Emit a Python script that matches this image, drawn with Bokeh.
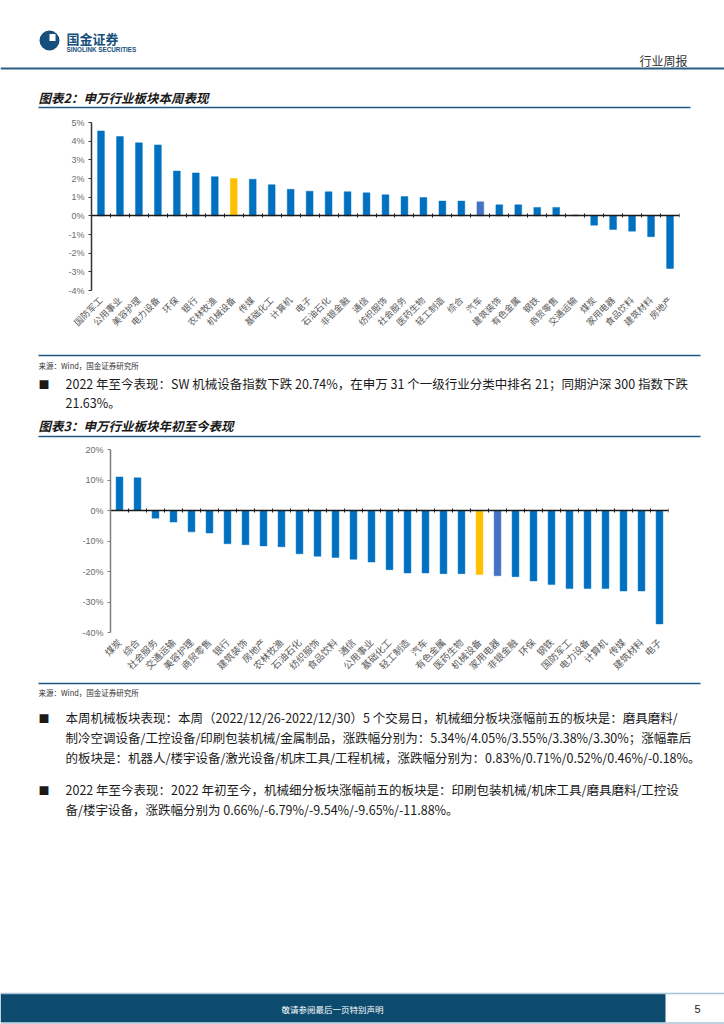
import math
from bokeh.plotting import figure
from bokeh.models import Range1d, LinearAxis, FixedTicker, ColumnDataSource, PrintfTickFormatter
from bokeh.core.properties import value
from bokeh.embed import file_html
from bokeh.resources import INLINE

# ---------------- data ----------------
week_categories = ["国防军工", "公用事业", "美容护理", "电力设备", "环保", "银行", "农林牧渔", "机械设备",
                   "传媒", "基础化工", "计算机", "电子", "石油石化", "非银金融", "通信", "纺织服饰",
                   "社会服务", "医药生物", "轻工制造", "综合", "汽车", "建筑装饰", "有色金属", "钢铁",
                   "商贸零售", "交通运输", "煤炭", "家用电器", "食品饮料", "建筑材料", "房地产"]
week_values = [4.55, 4.25, 3.91, 3.80, 2.40, 2.30, 2.10, 2.00, 1.96, 1.67, 1.42, 1.32, 1.29, 1.29, 1.23,
               1.13, 1.03, 0.98, 0.79, 0.79, 0.75, 0.59, 0.59, 0.45, 0.45, 0.05, -0.50, -0.73, -0.82,
               -1.12, -2.82]
week_ticks = [-4, -3, -2, -1, 0, 1, 2, 3, 4, 5]
week_alt = "汽车"

ytd_categories = ["煤炭", "综合", "社会服务", "交通运输", "美容护理", "商贸零售", "银行", "建筑装饰",
                  "房地产", "农林牧渔", "石油石化", "纺织服饰", "食品饮料", "通信", "公用事业", "基础化工",
                  "轻工制造", "汽车", "有色金属", "医药生物", "机械设备", "家用电器", "非银金融", "环保",
                  "钢铁", "国防军工", "电力设备", "计算机", "传媒", "建筑材料", "电子"]
ytd_values = [11.0, 10.7, -2.5, -3.8, -7.0, -7.4, -10.9, -11.2, -11.6, -11.9, -14.2, -15.0, -15.4, -16.0,
              -16.9, -19.4, -20.5, -20.5, -20.7, -20.7, -21.0, -21.4, -21.7, -23.1, -24.3, -25.6, -25.6,
              -25.6, -26.4, -26.4, -37.2]
ytd_ticks = [-40, -30, -20, -10, 0, 10, 20]
ytd_alt = "家用电器"

highlight = "机械设备"

title1 = "图表2：申万行业板块本周表现"
title2 = "图表3：申万行业板块年初至今表现"
source_text = "来源：Wind，国金证券研究所"
para0 = ["2022 年至今表现：SW 机械设备指数下跌 20.74%，在申万 31 个一级行业分类中排名 21；同期沪深 300 指数下跌",
         "21.63%。"]
para1 = ["本周机械板块表现：本周（2022/12/26-2022/12/30）5 个交易日，机械细分板块涨幅前五的板块是：磨具磨料/",
         "制冷空调设备/工控设备/印刷包装机械/金属制品，涨跌幅分别为：5.34%/4.05%/3.55%/3.38%/3.30%；涨幅靠后",
         "的板块是：机器人/楼宇设备/激光设备/机床工具/工程机械，涨跌幅分别为：0.83%/0.71%/0.52%/0.46%/-0.18%。"]
para2 = ["2022 年至今表现：2022 年初至今，机械细分板块涨幅前五的板块是：印刷包装机械/机床工具/磨具磨料/工控设",
         "备/楼宇设备，涨跌幅分别为 0.66%/-6.79%/-9.54%/-9.65%/-11.88%。"]

# ---------------- styles ----------------
CJK = "Noto Sans CJK SC"
LAT = "Liberation Sans"
MAIN = "#0070C0"
HL = "#FFC000"
ALT = "#4472C4"
RULE = "#1F5A85"
W = 724


def page_fig(top, bottom):
    p = figure(width=W, height=bottom - top, x_range=Range1d(0, W), y_range=Range1d(bottom, top),
               x_axis_type=None, y_axis_type=None, output_backend="svg", toolbar_location=None,
               min_border=0, outline_line_color=None)
    p.min_border_left = p.min_border_right = p.min_border_top = p.min_border_bottom = 0
    return p


def txt(p, x, y, s, size, color="#1a1a1a", font=CJK, style="normal", align="left"):
    p.text(x=[x], y=[y], text=[s], text_font=value(font), text_font_size=value(f"{size}px"),
           text_color=color, text_font_style=style, text_align=align, text_baseline="middle")


def hline(p, x0, x1, y, color=RULE, width=1.5):
    p.line(x=[x0, x1], y=[y, y], line_color=color, line_width=width)


def bar_chart(cats, vals, ticks, alt_cat, h, left, right, top, bottom, bar_w, xlab_size, yaxis_color):
    n = len(cats)
    p = figure(width=W, height=h, x_range=Range1d(-0.5, n - 0.5),
               y_range=Range1d(min(ticks), max(ticks)),
               x_axis_type=None, y_axis_type=None, output_backend="svg", toolbar_location=None,
               outline_line_color=None, min_border_left=left, min_border_right=right,
               min_border_top=top, min_border_bottom=bottom)
    colors = [HL if c == highlight else (ALT if c == alt_cat else MAIN) for c in cats]
    src = ColumnDataSource(dict(x=list(range(n)), top=vals, color=colors))
    p.vbar(x="x", top="top", bottom=0, width=bar_w, fill_color="color", line_color="color",
           line_alpha=0.45, line_width=1, source=src)

    yax = LinearAxis(ticker=FixedTicker(ticks=ticks), formatter=PrintfTickFormatter(format="%d%%"))
    yax.axis_line_color = yaxis_color
    yax.axis_line_width = 1.5
    yax.major_tick_line_color = yaxis_color
    yax.major_tick_in = 0
    yax.major_tick_out = 3
    yax.minor_tick_line_color = None
    yax.major_label_text_font = LAT
    yax.major_label_text_font_size = "9px"
    yax.major_label_text_color = "#6b6b6b"
    yax.major_label_standoff = 4
    p.add_layout(yax, "left")

    xax = LinearAxis(ticker=FixedTicker(ticks=list(range(n))),
                     major_label_overrides={i: c for i, c in enumerate(cats)})
    xax.axis_line_color = None
    xax.major_tick_line_color = None
    xax.minor_tick_line_color = None
    xax.major_label_orientation = math.pi / 4
    xax.major_label_text_font = CJK
    xax.major_label_text_font_size = f"{xlab_size}px"
    xax.major_label_text_color = "#595959"
    xax.major_label_standoff = 2
    p.add_layout(xax, "below")

    bounds = [i - 0.5 for i in range(n + 1)]
    zax = LinearAxis(fixed_location=0, ticker=FixedTicker(ticks=bounds),
                     major_label_overrides={b: "" for b in bounds})
    zax.axis_line_color = "#1a1a1a"
    zax.axis_line_width = 1.5
    zax.major_tick_line_color = "#1a1a1a"
    zax.major_tick_in = 2
    zax.major_tick_out = 2
    zax.minor_tick_line_color = None
    zax.major_label_standoff = 0
    p.add_layout(zax, "above")
    return p


# ---------------- header (page y 0..112) ----------------
pa = page_fig(0, 112)
pa.circle(x=[49], y=[40], radius=10, fill_color="#174F7C", line_color=None)
pa.rect(x=[52], y=[37], width=6, height=7, fill_color="white", line_color=None)
txt(pa, 66, 38, "国金证券", 13, color="#174F7C", style="bold")
txt(pa, 66, 49, "SINOLINK SECURITIES", 6.3, color="#174F7C", font=LAT, style="bold")
txt(pa, 687, 60, "行业周报", 12, color="#333333", align="right")
hline(pa, 0, W, 68, color="#2B5C84", width=2)
txt(pa, 38, 97, title1, 12.5, style="bold italic")
hline(pa, 38, 690, 107)

# ---------------- chart 1 (page y 112..345) ----------------
pb = bar_chart(week_categories, week_values, week_ticks, week_alt, 233, 91, 45, 10, 55, 0.36, 9, "#333333")

# ---------------- middle text (page y 345..440) ----------------
pc = page_fig(345, 440)
hline(pc, 38, 700, 355)
txt(pc, 38, 365, source_text, 7.5, color="#333333")
txt(pc, 38, 383, "■", 11)
txt(pc, 65, 383, para0[0], 12.5)
txt(pc, 65, 402, para0[1], 12.5)
txt(pc, 38, 425, title2, 12.5, style="bold italic")
hline(pc, 38, 700, 436)

# ---------------- chart 2 (page y 440..680) ----------------
pd_ = bar_chart(ytd_categories, ytd_values, ytd_ticks, ytd_alt, 240, 110, 56, 9, 48, 0.38, 9.5, "#7f7f7f")

# ---------------- bottom text + footer (page y 680..1024) ----------------
pe = page_fig(680, 1024)
hline(pe, 38, 700, 683)
txt(pe, 38, 692, source_text, 7.5, color="#333333")
txt(pe, 38, 717, "■", 11)
for i, line in enumerate(para1):
    txt(pe, 65, 717 + i * 20, line, 12.5)
txt(pe, 38, 789, "■", 11)
for i, line in enumerate(para2):
    txt(pe, 65, 789 + i * 20, line, 12.5)
pe.quad(left=[0], right=[665], top=[993], bottom=[1022], fill_color="#0C4B6E", line_color=None)
hline(pe, 0, W, 993, color="#A9C2D6", width=1.5)
hline(pe, 0, W, 1022.5, color="#A9C2D6", width=1.5)
txt(pe, 332, 1008, "敬请参阅最后一页特别声明", 8.5, color="white", align="center")
txt(pe, 697, 1008, "5", 11, color="#222222", font=LAT, align="center")

open("out.html", "w").write(file_html([pa, pb, pc, pd_, pe], INLINE))
